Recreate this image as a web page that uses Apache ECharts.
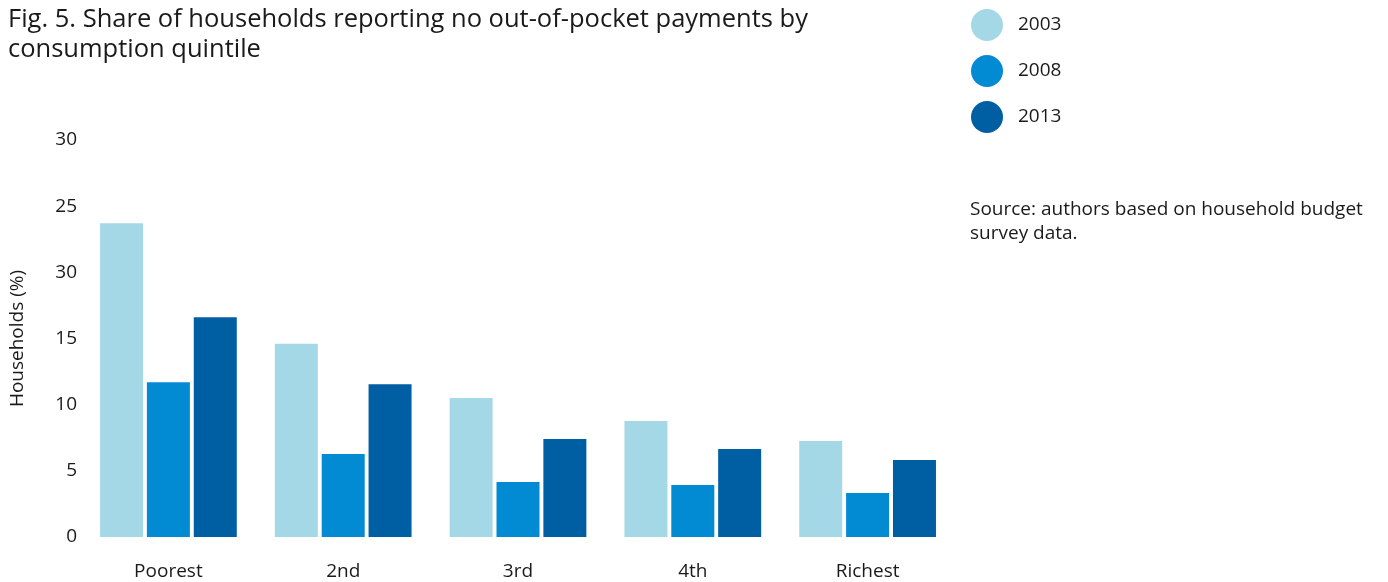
<!DOCTYPE html>
<html>
<head>
<meta charset="utf-8">
<script src="https://cdn.jsdelivr.net/npm/echarts@6/dist/echarts.min.js"></script>
<style>
html,body{margin:0;padding:0;background:#fff;}
#chart{width:1388px;height:582px;}
</style>
</head>
<body>
<div id="chart"></div>
<script>
const categories = ["Poorest", "2nd", "3rd", "4th", "Richest"];
const seriesNames = ["2003", "2008", "2013"];
const values2003 = [23.7, 14.6, 10.5, 8.77, 7.26];
const values2008 = [11.7, 6.27, 4.16, 3.93, 3.33];
const values2013 = [16.6, 11.55, 7.4, 6.65, 5.82];
const yTickLabels = ["0", "5", "10", "15", "30", "25", "30"];
const colors = ["#a5d8e6", "#028ad3", "#005ea3"];

const FONT = "Open Sans";
const FS = 19;
const chart = echarts.init(document.getElementById("chart"), null, {renderer: "canvas"});
const allValues = [values2003, values2008, values2013];
chart.setOption({
  animation: false,
  textStyle: {fontFamily: FONT, color: "#1a1a1a"},
  title: [{
    text: "Fig. 5. Share of households reporting no out-of-pocket payments by\nconsumption quintile",
    left: 3, top: 0,
    textStyle: {fontFamily: FONT, fontSize: 25.5, fontWeight: "normal", color: "#1a1a1a", lineHeight: 30}
  }, {
    text: "Source: authors based on household budget\nsurvey data.",
    left: 965, top: 193,
    textStyle: {fontFamily: FONT, fontSize: FS, fontWeight: "normal", color: "#1a1a1a", lineHeight: 24}
  }],
  legend: {
    orient: "vertical",
    left: 966, top: 4,
    icon: "circle",
    itemWidth: 32, itemHeight: 32,
    itemGap: 14,
    textStyle: {fontFamily: FONT, fontSize: FS, color: "#1a1a1a", padding: [0, 0, 0, 10]},
    data: seriesNames
  },
  grid: {left: 80, right: 433, top: 140, bottom: 45, containLabel: false},
  xAxis: {
    type: "category",
    data: categories,
    axisLine: {show: false},
    axisTick: {show: false},
    axisLabel: {fontFamily: FONT, fontSize: FS, color: "#1a1a1a", margin: 25}
  },
  yAxis: {
    type: "value",
    min: 0, max: 30, interval: 5,
    name: "Households (%)",
    nameLocation: "middle",
    nameGap: 54,
    nameTextStyle: {fontFamily: FONT, fontSize: FS, color: "#1a1a1a"},
    axisLine: {show: false},
    axisTick: {show: false},
    splitLine: {show: false},
    axisLabel: {
      fontFamily: FONT, fontSize: FS, color: "#1a1a1a", margin: 4,
      formatter: function (v) { return yTickLabels[Math.round(v / 5)]; }
    }
  },
  series: seriesNames.map((n, i) => ({
    name: n,
    type: "bar",
    data: allValues[i],
    barWidth: 43,
    barGap: "9%",
    itemStyle: {color: colors[i]}
  }))
});
</script>
</body>
</html>
